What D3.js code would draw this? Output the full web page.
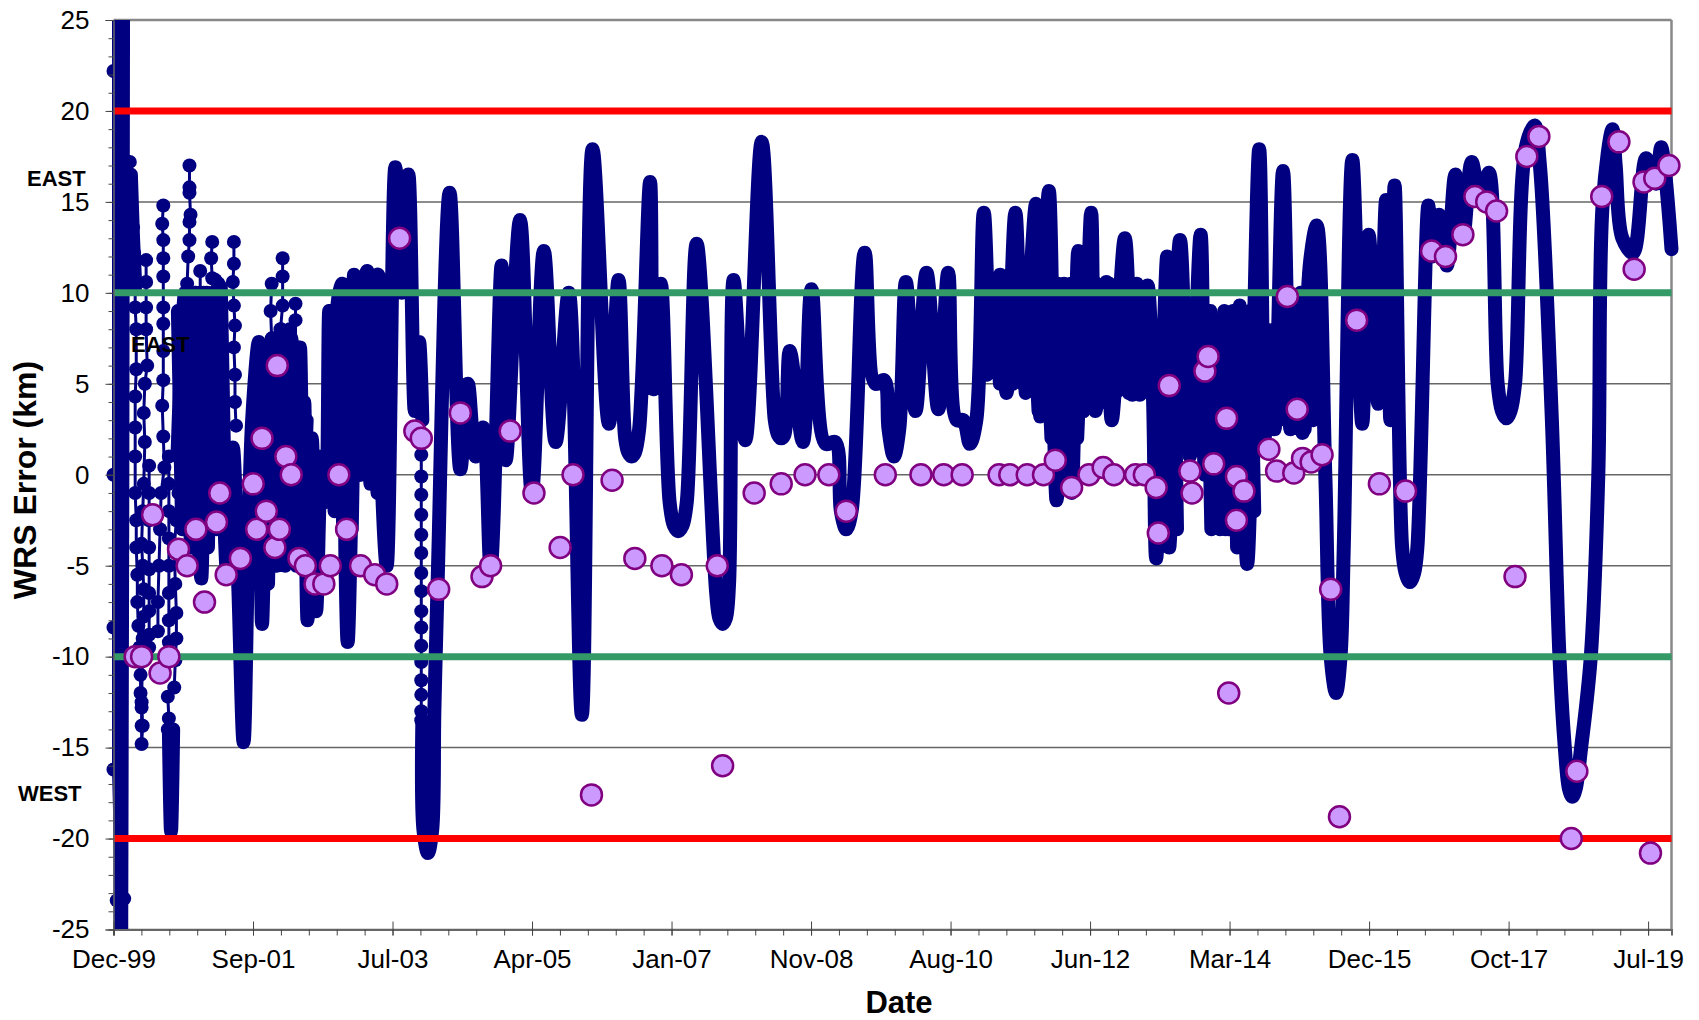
<!DOCTYPE html>
<html>
<head>
<meta charset="utf-8">
<script src="https://d3js.org/d3.v7.min.js"></script>
<style>
body { margin: 0; background: #fff; }
text { font-family: "Liberation Sans", Arial, sans-serif; fill: #000; }
.tick text { font-size: 26px; }
</style>
</head>
<body>
<svg id="chart" width="1699" height="1020"></svg>
<script>
// days since the first axis tick (18 Dec 1999), km error
var startDate = new Date(1999, 11, 18);
var lastDay = 7259;
var tickStep = 650;
var minorStep = 130;
var yTicks = [25, 20, 15, 10, 5, 0, -5, -10, -15, -20, -25];
var limitValues = [20, -20];
var warnValues = [10, -10];

// main trace, read at its turning points; null = break in the trace
var waveDays = [25, 35, 45, null,
  258, 268, 278, null,
  298, 333, 359, 384, 409, 434, 465, 490, 515, 530, 556, 581, 606, 626, 646, 677, 692, 722, 747, 773, 798, 828, 853, 869, 884, 889, 904, 924, 944, 970, 990, 1005, 1025, 1045, 1066, 1081, 1091, 1106, 1121, 1146, 1167, 1182, 1197, 1212, 1232, 1252, 1273, 1313, 1343, 1374, 1404, 1424, 1439, null,
  1439, 1444, 1465, 1485, 1495, 1510, 1566, 1616, 1651, 1687, 1722, 1757, 1808, 1828, 1894, 1949, 2005, 2060, 2121, 2182, 2232, 2308, 2353, 2384, 2399, 2414, 2429, 2449, 2500, 2515, 2550, 2591, 2611, 2631, 2651, 2671, 2717, 2808, 2823, 2838, 2853, 2868, 2889, 2944, 3020, 3081, 3096, 3111, 3126, 3151, 3212, 3252, 3318, 3363, 3389, 3414, 3439, 3500, 3550, 3591, 3611, 3636, 3661, 3692, 3737, 3788, 3843, 3889, 3929, 3959, 3990, 4020, 4055, 4091, 4131, 4161, 4202, 4237, 4298, 4318, 4358, 4394, 4429, 4464, 4495, 4520, 4555, 4575, 4626, 4651, 4712, 4747, 4767, 4782, 4818, 4843, 4858, 4909, 4919, 4969, 5015, 5065, 5085, 5111, 5131, 5161, 5181, 5196, 5222, 5247, 5282, 5338, 5363, 5383, 5409, 5449, 5484, 5515, 5540, 5575, 5606, 5646, 5671, 5696, 5717, 5732, 5772, 5818, 5848, 5893, 5929, 5949, 5969, 6004, 6020, 6040, 6060, 6075, 6126, 6141, 6176, 6212, 6252, 6287, 6328, 6368, 6408, 6449, 6469, 6489, 6509, 6530, 6580, 6621, 6646, 6701, 6737, 6762, 6782, 6797, 6812, 6838, 6883, 6918, 6939, 6984, 6999, 7030, 7080, 7141, 7186, 7211, 7259];
var waveValues = [30, -30, 30, null,
  -14, -19.6, -14, null,
  1, 10, -2, 10, -5.7, 10, -1, 10.5, -2, -5.5, 1.5, -6, -14.7, -5, 3, 7.3, -8.2, 7, -3, 7.5, -2, 7.5, -5, 7, -3, 4, -8, 2, -7.5, 1, -1.5, 9, -1, 9.5, 10.5, -5, -9.2, -3, 11, 0, 10.5, 11.2, -0.5, 10.5, 11, -1, -5, 16.9, 10, 16.5, 3.5, 7.3, 3, null,
  -13.5, -19.5, -20.8, -19.5, -13, -6, 15.5, 0.3, 5, 1, 2.6, -5.1, 11.5, 0.8, 14, -1, 12.3, 1.8, 10, -13.2, 17.9, 2.8, 10.7, 2, 1.2, 1, 1.2, 2.5, 16.1, 4.7, 10.5, -1.5, -2.8, -3.1, -2.8, -1.5, 12.7, -6.5, -7.9, -8.2, -7.9, -6, 10.7, 1.9, 18.3, 3, 2.2, 2, 2.2, 6.8, 1.8, 10.2, 1.7, 1.8, -2, -3, -2, 12.2, 5, 5.2, 2.5, 1, 2.5, 10.6, 3.5, 11.1, 3.6, 11.1, 3, 3, 1.7, 3, 14.4, 5.8, 11, 4.5, 14.4, 5, 14.9, 3.2, 15.6, -1.4, 10.5, -1, 12.3, 3.5, 14.4, 3.5, 10.6, 3, 13, 4.4, 10.5, 4.4, 10.4, 4.3, -4.6, 12, -4, 12.9, 1, 13.2, 0, 9, -2, 8.5, -3, 8.5, -2, 9.3, -4.9, 17.9, 2, 7.7, 2.5, 16.7, 2.5, 9, 2.3, 11.7, 13.7, 0, -10, -12, -10, -4, 17.3, 2.8, 13.2, 3.9, 15.1, 3, 15.9, -4, -5.4, -5.9, -5.4, -4, 14.8, 12, 14.3, 11.5, 16.5, 13, 17.2, 15, 16.6, 5, 3.5, 3.1, 3.5, 5, 18, 19.2, 17, 3.2, -10, -15, -17.3, -17.7, -17.3, -15, -10, 0, 15, 19, 17, 13, 12.2, 17.4, 16, 18, 12.4];

// further passes where the trace swings too fast to follow, only the envelope can be read
var denseDays = [81, 91, 101, null,
  300, 320, 340, 360, 380, 400, 420, 440, 460, 480, 500, 520, 540, null,
  660, 680, 700, 720, 740, 760, 780, 800, 820, 840, 860, 880, 900, null,
  1010, 1030, 1050, 1070, 1090, 1110, 1130, 1150, 1170, 1190, 1210, 1230, 1250, 1270, null,
  4070, 4100, 4130, 4160, 4190, 4220, 4250, 4280, 4310, 4340, 4370, 4400, 4430, 4460, 4490, 4520, 4550, 4580, 4610, 4640, 4670, 4700, 4730, 4760, 4790, 4820, null,
  4880, 4895, 4940, 4955, null,
  5095, 5115, 5135, 5155, 5175, 5195, 5215, 5235, 5255, 5275, 5295, 5315, null,
  5370, 5390, 5410, 5430, 5450, 5470, 5490, 5510, 5530, 5550, 5570, 5590, null,
  5870, 5890, 5910];
var denseValues = [16.5, 13, 10.5, null,
  9, -3, 10, -4, 10, -5, 10, -4, 10, -3, 10.3, -2, 1.5, null,
  5, -5, 7, -6, 7.5, -5, 8, -5, 8, -4, 7, -3, 3, null,
  9, -2, 10, -3, 10, -3, 10.5, 0, 10.5, 0, 10.5, -1, 10, -2, null,
  5.5, 10.5, 5, 10.5, 5, 10.5, 4.5, 10.5, 3.5, 10.5, 2, 10.5, 0, 10.5, 2, 10.5, 4, 10.5, 4, 10.5, 4.5, 10.5, 4.5, 10.3, 4.5, 10.3, null,
  8, -3, 9, -3, null,
  9, -3, 8.5, -3, 9, -3, 9, -4, 9, -4, 9, -2, null,
  8, 3, 8, 3, 9, 3, 9, 3, 10, 2.5, 11, 3, null,
  11, 5, 11];

// sparse stretches where single markers on a thin line can be told apart
var beadDays = [0, 0, 0, 0, 15, 50, null,
  76, 81, 81, 86, 91, 91, 96, 96, 101, 101, 106, 106, 101, 101, 101, 101, 106, 106, 111, 111, 116, 121, 126, 126, 131, 131, 131, 136, 131, 136, 141, 141, 136, 131, 136, 141, 146, 141, 146, 157, 152, 152, 152, 152, null,
  166, 166, 166, 166, 166, 166, 166, 166, 166, null,
  232, 227, 232, 232, 232, 232, 232, 232, 232, 227, 232, 237, 222, 217, 212, 207, 207, null,
  258, 258, 258, 258, 258, 258, 258, 258, null,
  253, 258, 253, 283, 288, 293, 293, 288, 283, 293, 303, 318, 323, 318, 323, 338, 343, 348, 354, 354, 359, 354, 354, 354, null,
  404, 404, null,
  460, 455, 460, 475, 475, null,
  561, 561, 556, 561, 566, 561, 566, 566, 571, null,
  737, 732, 737, null,
  788, 788, 788, 778, null,
  848, 848, 848, null,
  1434, 1434, 1434, 1434, 1434, 1434, 1434, 1434, 1434, 1434, 1434, 1434, 1434, 1434, 1434, 1434];
var beadValues = [22.2, 0, -8.4, -16.2, -23.4, -23.3, null,
  17.2, 16, 15.3, 14.3, 13.6, 13, 12.2, 11.3, 10.3, 9.2, 8, 5.8, 4.3, 2.6, 1, -1, -2.5, -4, -5.5, -7, -8.3, -9.5, -11, -12, -12.8, -13.8, -14.8, -13.8, -12.5, -9, -7.8, -6.3, -5, -3.8, -2, -0.5, 1.8, 3.4, 5, 6, 8, 9.2, 10.6, 11.8, null,
  0.5, -1, -2.5, -4, -5.2, -6.5, -7.5, -8.8, -9.5, null,
  14.8, 13.8, 12.9, 11.9, 10.9, 9.2, 8.3, 6.8, 5.2, 3.8, 2.1, 0.4, -1, -3, -5, -7, -8.6, null,
  1, -0.5, -2, -3.5, -5, -6.5, -8, -9.2, null,
  -14, -13.4, -12.2, -11.7, -10.2, -9, -7.6, -6, -4, -2.5, -1, 1, 3, 5, 7, 8.5, 10.5, 12, 12.9, 13.9, 14.3, 15.5, 15.8, 17, null,
  11.2, 10, null,
  12.8, 11.9, 10.8, 10.7, 9.5, null,
  12.8, 11.6, 10.6, 9.3, 8.2, 7, 5.5, 4, 2.7, null,
  10.5, 9, 7.5, null,
  11.9, 10.9, 9.3, 8, null,
  9.4, 8.5, 7, null,
  1.1, -0.1, -1.1, -2.2, -3.3, -4.3, -5.4, -6.4, -7.5, -8.4, -9.4, -10.3, -11.3, -12.1, -13, -13.5];

// measured errors
var measureDays = [101, 131, 182, 217, 258, 303, 343, 384, 424, 480, 495, 525, 591, 651, 667, 692, 712, 752, 763, 773, 803, 828, 864, 894, 939, 980, 1010, 1050, 1086, 1151, 1217, 1273, 1333, 1404, 1434, 1515, 1616, 1717, 1757, 1848, 1959, 2081, 2141, 2227, 2323, 2429, 2555, 2646, 2813, 2838, 2985, 3111, 3222, 3333, 3414, 3596, 3762, 3868, 3954, 4126, 4176, 4257, 4333, 4388, 4464, 4545, 4611, 4661, 4762, 4803, 4858, 4868, 4919, 5015, 5025, 5085, 5100, 5126, 5186, 5196, 5232, 5232, 5267, 5383, 5419, 5469, 5499, 5515, 5540, 5580, 5631, 5671, 5712, 5792, 5898, 6020, 6141, 6206, 6287, 6343, 6398, 6444, 6530, 6585, 6641, 6792, 6818, 6934, 7014, 7085, 7131, 7161, 7181, 7247];
var measureValues = [-10, -10, -2.2, -10.9, -10, -4.1, -5, -3, -7, -2.6, -1, -5.5, -4.6, -0.5, -3, 2, -2, -4, 6, -3, 1, 0, -4.6, -5, -6, -6, -5, 0, -3, -5, -5.5, -6, 13, 2.4, 2, -6.3, 3.4, -5.6, -5, 2.4, -1, -4, 0, -17.6, -0.3, -4.6, -5, -5.5, -5, -16, -1, -0.5, 0, 0, -2, 0, 0, 0, 0, 0, 0, 0, 0, 0.8, -0.7, 0, 0.4, 0, 0, 0, -0.7, -3.2, 4.9, 0.2, -1, 5.7, 6.5, 0.6, 3.1, -12, -0.1, -2.5, -0.9, 1.4, 0.2, 9.8, 0.1, 3.6, 0.9, 0.7, 1.1, -6.3, -18.8, 8.5, -0.5, -0.9, 12.3, 12, 13.2, 15.3, 15, 14.5, -5.6, 17.5, 18.6, -20, -16.3, 15.3, 18.3, 11.3, 16.1, -20.8, 16.3, 17];

var margin = { left: 113.5, right: 1671.5, top: 20, bottom: 929.5 };
var svg = d3.select("#chart");

function toDate(day) {
  return d3.timeDay.offset(startDate, day);
}

var x = d3.scaleTime().domain([startDate, toDate(lastDay)]).range([margin.left, margin.right]);
var y = d3.scaleLinear().domain([-25, 25]).range([margin.bottom, margin.top]);

function zip(days, values) {
  return days.map(function(d, i) {
    return { day: d, value: values[i] };
  });
}

svg.append("defs").append("clipPath").attr("id", "plot")
  .append("rect")
  .attr("x", margin.left - 10).attr("y", margin.top)
  .attr("width", margin.right - margin.left + 30).attr("height", margin.bottom - margin.top);

// grid
svg.append("g").selectAll("line").data(yTicks).enter().append("line")
  .attr("x1", margin.left).attr("x2", margin.right)
  .attr("y1", function(d) { return y(d); }).attr("y2", function(d) { return y(d); })
  .attr("stroke", function(d) { return d === 25 ? "#888" : "#666"; })
  .attr("stroke-width", function(d) { return d === 25 ? 2.5 : 1.5; });
svg.append("line")
  .attr("x1", margin.right).attr("x2", margin.right)
  .attr("y1", margin.top).attr("y2", margin.bottom)
  .attr("stroke", "#888").attr("stroke-width", 2.5);

// trace
var navy = "#000080";
var traceLine = d3.line()
  .defined(function(d) { return d.value !== null; })
  .x(function(d) { return x(toDate(d.day)); })
  .y(function(d) { return y(d.value); });
var waveLine = d3.line()
  .defined(function(d) { return d.value !== null; })
  .x(function(d) { return x(toDate(d.day)); })
  .y(function(d) { return y(d.value); })
  .curve(d3.curveCatmullRom.alpha(0.5));

function drawPass(data, line) {
  svg.append("path")
    .datum(data)
    .attr("clip-path", "url(#plot)")
    .attr("fill", "none").attr("stroke", navy)
    .attr("stroke-width", 14)
    .attr("stroke-linecap", "round").attr("stroke-linejoin", "round")
    .attr("d", line);
}
drawPass(zip(waveDays, waveValues), waveLine);
drawPass(zip(denseDays, denseValues), traceLine);

var beads = zip(beadDays, beadValues);
svg.append("path")
  .datum(beads)
  .attr("fill", "none").attr("stroke", navy).attr("stroke-width", 3)
  .attr("d", traceLine);
svg.append("g").selectAll("circle")
  .data(beads.filter(function(d) { return d.value !== null; }))
  .enter().append("circle")
  .attr("cx", function(d) { return x(toDate(d.day)); })
  .attr("cy", function(d) { return y(d.value); })
  .attr("r", 7)
  .attr("fill", navy);

// limits
svg.append("g").selectAll("line").data(warnValues).enter().append("line")
  .attr("x1", margin.left).attr("x2", margin.right)
  .attr("y1", function(d) { return y(d); }).attr("y2", function(d) { return y(d); })
  .attr("stroke", "#339966").attr("stroke-width", 7);
svg.append("g").selectAll("line").data(limitValues).enter().append("line")
  .attr("x1", margin.left).attr("x2", margin.right)
  .attr("y1", function(d) { return y(d); }).attr("y2", function(d) { return y(d); })
  .attr("stroke", "#ff0000").attr("stroke-width", 7);

// measured points
svg.append("g").selectAll("circle")
  .data(zip(measureDays, measureValues))
  .enter().append("circle")
  .attr("cx", function(d) { return x(toDate(d.day)); })
  .attr("cy", function(d) { return y(d.value); })
  .attr("r", 10.5)
  .attr("fill", "#cc99ff")
  .attr("stroke", "#800080")
  .attr("stroke-width", 2.5);

// axes
var yAxisMinor = d3.axisLeft(y).tickValues(d3.range(-25, 26)).tickSize(5).tickFormat("");
var yAxisMajor = d3.axisLeft(y).tickValues(yTicks).tickSize(8).tickPadding(16)
  .tickFormat(function(d) { return d; });
svg.append("g").attr("transform", "translate(" + margin.left + ",0)").call(yAxisMinor)
  .call(function(g) { g.select(".domain").attr("stroke", "#666"); g.selectAll("line").attr("stroke", "#444"); });
svg.append("g").attr("transform", "translate(" + margin.left + ",0)").call(yAxisMajor)
  .call(function(g) { g.select(".domain").attr("stroke", "#666"); g.selectAll("line").attr("stroke", "#444"); });

var xMinor = d3.range(0, lastDay, minorStep).map(toDate);
var xMajor = d3.range(0, lastDay, tickStep).map(toDate);
var xAxisMinor = d3.axisBottom(x).tickValues(xMinor).tickSize(6).tickFormat("");
var xAxisMajor = d3.axisBottom(x).tickValues(xMajor).tickSize(6).tickPadding(14)
  .tickFormat(d3.timeFormat("%b-%y"));
svg.append("g").attr("transform", "translate(0," + margin.bottom + ")").call(xAxisMinor)
  .call(function(g) { g.select(".domain").attr("stroke", "#666").attr("stroke-width", 2); g.selectAll("line").attr("stroke", "#444"); });
svg.append("g").attr("transform", "translate(0," + margin.bottom + ")").call(xAxisMajor)
  .call(function(g) {
    g.select(".domain").remove();
    g.selectAll("line").attr("stroke", "#444").attr("y1", -8);
  });

// titles and labels
svg.append("text")
  .attr("transform", "translate(36,480) rotate(-90)")
  .attr("text-anchor", "middle")
  .style("font-size", "32px").style("font-weight", "bold")
  .text("WRS Error (km)");
svg.append("text")
  .attr("x", 899).attr("y", 1013)
  .attr("text-anchor", "middle")
  .style("font-size", "31px").style("font-weight", "bold")
  .text("Date");

var sideLabels = [
  { text: "EAST", x: 27, y: 186 },
  { text: "EAST", x: 131, y: 352 },
  { text: "WEST", x: 18, y: 801 }
];
svg.append("g").selectAll("text").data(sideLabels).enter().append("text")
  .attr("x", function(d) { return d.x; })
  .attr("y", function(d) { return d.y; })
  .style("font-size", "22px").style("font-weight", "bold")
  .text(function(d) { return d.text; });
</script>
</body>
</html>
